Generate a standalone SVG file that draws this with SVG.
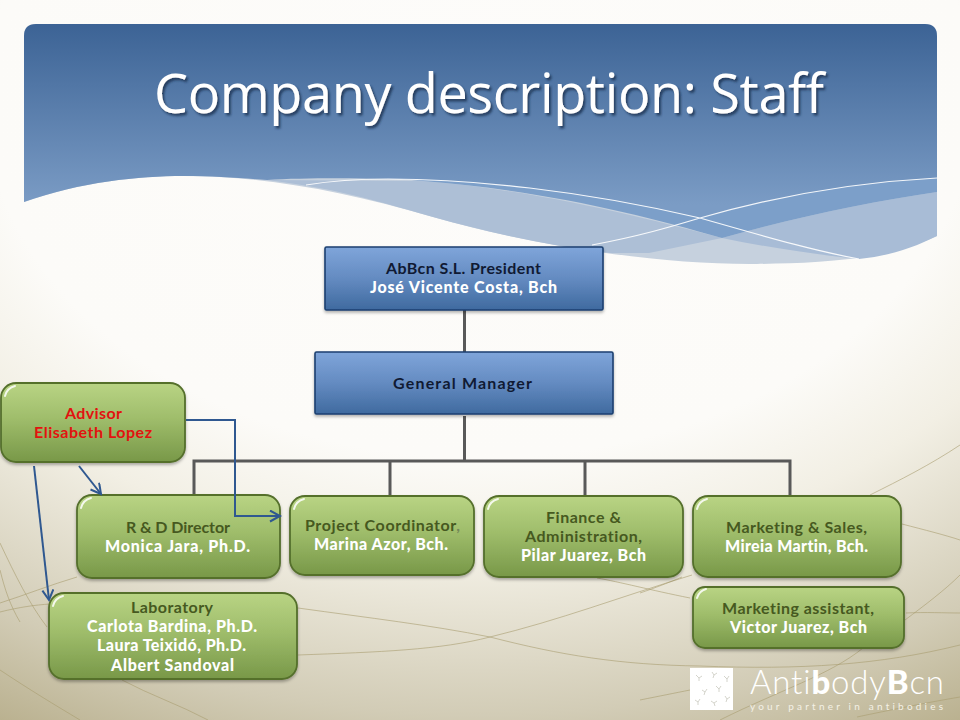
<svg xmlns="http://www.w3.org/2000/svg" width="960" height="720" viewBox="0 0 960 720">
<style>
text{font-variant-ligatures:none}
.t{font-family:"Lato","Liberation Sans",sans-serif;font-size:16px;font-weight:700;text-anchor:middle;transform:translateY(1px)}
.d{fill:#46591f}.w{fill:#fff;font-weight:900}.k{fill:#101a33}.r{fill:#e2120f}
.g{fill:url(#green);stroke:#546f2c;stroke-width:1.8;filter:url(#sh)}
.b{fill:url(#blue);stroke:#1d3f70;stroke-width:1.6;filter:url(#sh)}
.hl{fill:none;stroke:#fff;stroke-width:2;stroke-linecap:round;opacity:.85}
.c{fill:none;stroke:#595959;stroke-width:3}
.a{fill:none;stroke:#2f5890;stroke-width:2}
.bg{fill:none;stroke:#a89d70;stroke-width:1;opacity:.6}
</style>
<defs>
<radialGradient id="bgr" gradientUnits="userSpaceOnUse" cx="480" cy="100" r="1" gradientTransform="translate(480 100) scale(990 715) translate(-480 -100)">
<stop offset="0" stop-color="#fdfcfa"/><stop offset=".5" stop-color="#fcfbf8"/><stop offset=".64" stop-color="#f2efe4"/><stop offset=".86" stop-color="#d2ccb6"/><stop offset="1" stop-color="#b9b08e"/>
</radialGradient>
<linearGradient id="head" gradientUnits="userSpaceOnUse" x1="0" y1="24" x2="0" y2="205"><stop offset="0" stop-color="#3c6395"/><stop offset="1" stop-color="#7b9cc5"/></linearGradient>
<linearGradient id="green" x1="0" y1="0" x2="0" y2="1"><stop offset="0" stop-color="#b9d484"/><stop offset=".45" stop-color="#9fbd6b"/><stop offset="1" stop-color="#789848"/></linearGradient>
<linearGradient id="blue" x1="0" y1="0" x2="0" y2="1"><stop offset="0" stop-color="#7fa5da"/><stop offset=".5" stop-color="#648bc1"/><stop offset="1" stop-color="#3f6a9f"/></linearGradient>
<filter id="sh" x="-10%" y="-10%" width="120%" height="125%"><feDropShadow dx="0" dy="2" stdDeviation="1.6" flood-color="#000" flood-opacity=".3"/></filter>
<filter id="ts" x="-5%" y="-20%" width="110%" height="140%"><feDropShadow dx="2" dy="2.5" stdDeviation="1" flood-color="#1a3050" flood-opacity=".8"/></filter>
<marker id="arr" markerUnits="userSpaceOnUse" markerWidth="14" markerHeight="14" refX="11" refY="6" orient="auto"><path d="M1 0.5 L11 6 L1 11.5" fill="none" stroke="#2f5890" stroke-width="2"/></marker>
</defs>
<rect width="960" height="720" fill="url(#bgr)"/>
<g id="background-lines">
<path class="bg" d="M0 612 C20 607 35 605 50 604 M298 608 C370 618 430 625 490 637 C560 655 620 665 700 666 C800 670 880 665 960 645"/>
<path class="bg" d="M298 655 C380 652 440 650 490 637 C560 620 620 597 692 575 M870 495 C900 480 930 465 960 445"/>
<path class="bg" d="M720 720 C780 690 830 675 863 648 M905 620 C925 605 945 590 960 575"/>
<path class="bg" d="M597 578 C620 582 650 590 690 598 M902 524 C925 530 945 535 960 540"/>
<path class="bg" d="M0 543 C15 575 30 605 47 627 M0 570 C5 590 10 605 20 622 M0 603 C25 595 50 585 77 577 M0 670 C30 690 55 705 80 720 M122 680 C150 695 180 705 208 720"/>
<path class="bg" d="M906 613 C925 612 945 613 960 613 M640 593 C655 588 670 582 682 577 M640 700 C660 696 675 693 690 690 M857 717 C890 710 930 702 960 697"/>
</g>
<g id="header">
<path d="M24 202 C80 182 140 176 183 176 C260 176 340 190 433 217 C530 245 660 265 757 264 C810 263 880 262 937 236 V36 Q937 24 925 24 H36 Q24 24 24 36 Z" fill="#c6d1de"/>
<path d="M267 180 C340 190 360 196 433 217 C490 233 550 246 610 253 L649 253 L722 238 C660 222 540 190 423 181 Z" fill="#adbfd6"/>
<path d="M722 238 C770 248 820 255 859 259 C890 256 915 247 937 236 V192 C870 202 800 216 722 238 Z" fill="#a8bcd6"/>
<path d="M388 178 H937 V192 C870 202 800 216 722 238 C640 214 540 190 423 181 Z" fill="#7c9fc9"/>
<path d="M24 202 C80 182 140 176 183 176 C215 176 240 178 267 180 C300 178 350 178 388 179 C470 179 580 190 700 218 C780 195 860 182 937 178 V36 Q937 24 925 24 H36 Q24 24 24 36 Z" fill="url(#head)"/>
<path d="M306 185 C330 181 360 179 388 179 C470 179 580 190 700 218 C760 235 810 250 859 259 M592 245 C640 236 670 227 700 218 C780 195 860 182 937 178" fill="none" stroke="#fff" stroke-width="1.2" opacity=".9"/>
<text x="489" y="113" text-anchor="middle" textLength="670" font-family="'Open Sans','Liberation Sans',sans-serif" font-size="54" fill="#fff" filter="url(#ts)">Company description: Staff</text>
</g>
<g id="connectors">
<path class="c" d="M464.5 310V352M464.5 416V461M194 495V461H790V496M390 460V496M585 461V496"/>
</g>
<g id="president"><rect class="b" x="325" y="247" width="278" height="63" rx="1.5"/>
<text class="t k" x="463.500" y="273" textLength="155">AbBcn S.L. President</text><text class="t w" x="463.500" y="292" textLength="187">José Vicente Costa, Bch</text></g>
<g id="general-manager"><rect class="b" x="315" y="352" width="298" height="62" rx="1.5"/>
<text class="t k" x="462.500" y="388" textLength="139">General Manager</text></g>
<g id="advisor"><rect class="g" x="1" y="383" width="184" height="79" rx="15"/><path class="hl" d="M5 396Q7 388 15 386"/>
<text class="t r" x="93.500" y="418" textLength="57">Advisor</text><text class="t r" x="93" y="437" textLength="118">Elisabeth Lopez</text></g>
<g id="rd-director"><rect class="g" x="77" y="495" width="203" height="83" rx="15"/><path class="hl" d="M81 508Q83 500 91 498"/>
<text class="t d" x="178" y="532" textLength="104">R &amp; D Director</text><text class="t w" x="177.500" y="551" textLength="145">Monica Jara, Ph.D.</text></g>
<g id="project-coordinator"><rect class="g" x="290" y="496" width="184" height="79" rx="15"/><path class="hl" d="M294 509Q296 501 304 499"/>
<text class="t d" x="382.500" y="530" textLength="155">Project Coordinator<tspan fill="#74885a">,</tspan></text><text class="t w" x="381" y="549" textLength="134">Marina Azor, Bch.</text></g>
<g id="finance"><rect class="g" x="484" y="496" width="199" height="81" rx="15"/><path class="hl" d="M488 509Q490 501 498 499"/>
<text class="t d" x="583.500" y="522" textLength="75">Finance &amp;</text><text class="t d" x="583.500" y="541" textLength="117">Administration,</text><text class="t w" x="583.500" y="560" textLength="125">Pilar Juarez, Bch</text></g>
<g id="marketing"><rect class="g" x="693" y="496" width="208" height="81" rx="15"/><path class="hl" d="M697 509Q699 501 707 499"/>
<text class="t d" x="796.500" y="532" textLength="141">Marketing &amp; Sales,</text><text class="t w" x="796.500" y="551" textLength="143">Mireia Martin, Bch.</text></g>
<g id="laboratory"><rect class="g" x="49" y="593" width="248" height="86" rx="15"/><path class="hl" d="M53 606Q55 598 63 596"/>
<text class="t d" x="172" y="612" textLength="82">Laboratory</text><text class="t w" x="172" y="631" textLength="170">Carlota Bardina, Ph.D.</text><text class="t w" x="171.500" y="650" textLength="149">Laura Teixidó, Ph.D.</text><text class="t w" x="172.500" y="670" textLength="123">Albert Sandoval</text></g>
<g id="marketing-assistant"><rect class="g" x="693" y="587" width="211" height="61" rx="12"/><path class="hl" d="M697 598Q699 591 706 589"/>
<text class="t d" x="798" y="613" textLength="152">Marketing assistant,</text><text class="t w" x="798.500" y="632" textLength="137">Victor Juarez, Bch</text></g>
<g id="advisor-connectors">
<path class="a" d="M186 420H235V516H280" marker-end="url(#arr)"/>
<path class="a" d="M79 466L101 494" marker-end="url(#arr)"/>
<path class="a" d="M34 466L49 600" marker-end="url(#arr)"/>
</g>
<g id="logo">
<rect x="690" y="668" width="43" height="42" fill="#fff"/>
<path d="M696 675l3 3 3-2M699 678v3M712 672l2 3 3-2M714 675l-1 3M724 676l3 3 2-3M727 679v3M702 690l3 2 2-3M705 692l-1 3M716 686l3 3 2-3M719 689v3M695 700l3 2 2-3M698 702v3M711 701l3 2 3-2M714 703l1 3M725 696l2 3 3-2M727 699l-1 3" fill="none" stroke="#c9c9bf" stroke-width=".8"/>
<text x="750" y="694" textLength="194" font-family="'Lato','Liberation Sans',sans-serif" font-size="33" font-weight="300" fill="#fff">Anti<tspan font-weight="900">b</tspan>ody<tspan font-weight="900">B</tspan>cn</text>
<text x="750" y="710" textLength="193" font-family="'Lato','Liberation Sans',sans-serif" font-size="10" fill="#f4f1e6">your partner in antibodies</text>
</g>
</svg>
